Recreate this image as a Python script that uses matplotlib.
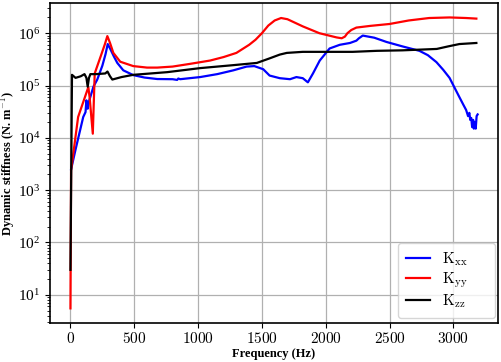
import matplotlib
matplotlib.use("Agg")
import matplotlib.pyplot as plt
from matplotlib.ticker import FuncFormatter

plt.rcParams['mathtext.fontset'] = 'cm'
plt.rcParams['font.family'] = ['Liberation Serif', 'DejaVu Serif']

# ===================== data =====================
freq_xx = [5, 40, 100, 118, 125, 135, 140, 180, 210, 250, 275, 292, 312, 340, 367, 414,
           492, 580, 680, 800, 836, 845, 860, 1016, 1150, 1276, 1380, 1440, 1510, 1560,
           1640, 1720, 1770, 1820, 1860, 1900, 1953, 2030, 2110, 2190, 2240, 2260, 2290,
           2380, 2476, 2600, 2734, 2800, 2867, 2920, 2970, 3010, 3047, 3080, 3100, 3115,
           3125, 3132, 3140, 3147, 3155, 3160, 3168, 3175, 3182, 3190]
k_xx = [2.5e3, 6e3, 2.5e4, 3.1e4, 5.2e4, 3.6e4, 4.5e4, 9.5e4, 1.3e5, 2.4e5, 4.0e5,
        6.2e5, 5.0e5, 3.6e5, 2.7e5, 1.95e5, 1.58e5, 1.42e5, 1.33e5, 1.32e5, 1.28e5,
        1.36e5, 1.32e5, 1.45e5, 1.65e5, 1.95e5, 2.3e5, 2.35e5, 2.05e5, 1.55e5, 1.38e5,
        1.32e5, 1.45e5, 1.38e5, 1.15e5, 1.7e5, 3.0e5, 5.1e5, 6.0e5, 6.5e5, 7.2e5,
        8.0e5, 9.0e5, 8.2e5, 6.8e5, 5.6e5, 4.6e5, 3.8e5, 2.8e5, 2.0e5, 1.4e5, 9.0e4,
        6.0e4, 4.2e4, 3.4e4, 2.6e4, 3.0e4, 2.2e4, 2.4e4, 1.6e4, 2.2e4, 1.5e4, 2.0e4,
        1.5e4, 2.6e4, 2.8e4]

freq_yy = [0, 5, 60, 140, 150, 175, 190, 200, 240, 270, 289, 310, 336, 390, 492, 600,
           680, 800, 940, 1094, 1200, 1300, 1400, 1450, 1500, 1550, 1600, 1650, 1700,
           1820, 1950, 2085, 2125, 2150, 2170, 2200, 2240, 2350, 2500, 2650, 2810, 2970,
           3100, 3180]
k_yy = [5.5, 2.4e3, 2.5e4, 9.3e4, 6e4, 1.2e4, 1.7e5, 2.0e5, 3.8e5, 6.2e5, 8.8e5,
        6.5e5, 4.2e5, 2.85e5, 2.35e5, 2.2e5, 2.2e5, 2.3e5, 2.6e5, 3.0e5, 3.5e5,
        4.2e5, 6.0e5, 7.5e5, 1.0e6, 1.4e6, 1.75e6, 1.95e6, 1.85e6, 1.35e6, 1.0e6,
        8.3e5, 8.0e5, 8.6e5, 1.0e6, 1.15e6, 1.28e6, 1.38e6, 1.5e6, 1.75e6, 1.95e6,
        2.0e6, 1.95e6, 1.9e6]

freq_zz = [0, 12, 40, 80, 110, 125, 135, 145, 156, 200, 273, 290, 310, 328, 400, 492,
           758, 1016, 1276, 1460, 1560, 1640, 1695, 1820, 2000, 2210, 2400, 2600, 2870,
           2960, 3047, 3180]
k_zz = [30, 1.6e5, 1.4e5, 1.5e5, 1.65e5, 1.4e5, 9.5e4, 1.4e5, 1.65e5, 1.65e5, 1.7e5,
        1.85e5, 1.5e5, 1.3e5, 1.45e5, 1.6e5, 1.8e5, 2.15e5, 2.45e5, 2.7e5, 3.3e5,
        3.9e5, 4.2e5, 4.4e5, 4.4e5, 4.4e5, 4.6e5, 4.7e5, 5.0e5, 5.6e5, 6.2e5, 6.5e5]

# ===================== figure =====================
fig = plt.figure(figsize=(5.01, 3.62), dpi=100)
ax = fig.add_axes([0.1, 0.108, 0.894, 0.884])

ax.plot(freq_xx, k_xx, color='blue', lw=1.6, label='$\\mathrm{K_{xx}}$')
ax.plot(freq_yy, k_yy, color='red', lw=1.6, label='$\\mathrm{K_{yy}}$')
ax.plot(freq_zz, k_zz, color='black', lw=1.6, label='$\\mathrm{K_{zz}}$')

ax.set_yscale('log')
ax.set_xticks([0, 500, 1000, 1500, 2000, 2500, 3000])
ax.xaxis.set_major_formatter(FuncFormatter(lambda v, p: f'${v:g}$'))
ax.tick_params(labelsize=11)
ax.tick_params(axis='x', pad=2)
ax.grid(True, which='major', color='#b0b0b0', lw=0.9)
for s in ax.spines.values():
    s.set_linewidth(1.2)

ax.set_xlabel('Frequency (Hz)', fontweight='bold', fontsize=9)
ax.set_ylabel('Dynamic stiffness (N. m$^{\\mathbf{-1}}$)', fontweight='bold', fontsize=9)
ax.xaxis.set_label_coords(0.5, -0.078)
ax.yaxis.set_label_coords(-0.074, 0.5)

ax.legend(loc='lower left', bbox_to_anchor=(0.777, 0.016, 0.216, 0.2), mode='expand',
          fontsize=11, handlelength=1.6, borderpad=0.5, labelspacing=0.15,
          borderaxespad=0.0)

fig.savefig('out.png', dpi=100)
